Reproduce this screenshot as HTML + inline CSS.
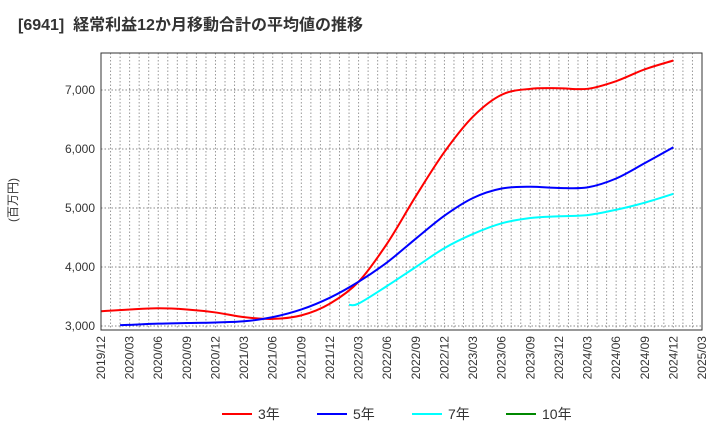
<!DOCTYPE html>
<html><head><meta charset="utf-8"><style>
body{margin:0;background:#fff;font-family:"Liberation Sans","Noto Sans CJK JP",sans-serif}
</style></head><body>
<svg id="c" width="720" height="440" xmlns="http://www.w3.org/2000/svg" font-family="Liberation Sans, Noto Sans CJK JP, sans-serif">
<text x="18" y="30" font-size="16" font-weight="bold" fill="#333" xml:space="preserve">[6941]  経常利益12か月移動合計の平均値の推移</text>
<text transform="translate(17,200) rotate(-90)" font-size="12" fill="#333" text-anchor="middle">(百万円)</text>
<g id="grid"></g><g id="series"></g><g id="axes"></g><g id="legend"></g>
</svg>
<script>
const xLabels=["2019/12","2020/03","2020/06","2020/09","2020/12","2021/03","2021/06","2021/09","2021/12","2022/03","2022/06","2022/09","2022/12","2023/03","2023/06","2023/09","2023/12","2024/03","2024/06","2024/09","2024/12","2025/03"];
const yTicks=[3000,4000,5000,6000,7000];
const s3=[3250,3280,3300,3280,3230,3150,3120,3180,3380,3750,4400,5200,5950,6550,6920,7020,7030,7020,7150,7350,7500];
const s5=[null,3020,3040,3050,3060,3080,3150,3280,3480,3750,4080,4480,4870,5170,5330,5360,5340,5350,5500,5760,6030];
const s7=[null,null,null,null,null,null,null,null,null,3380,3680,4000,4320,4560,4740,4830,4860,4880,4970,5090,5240];
const s10=[];
// first monthly point before the first quarter value: [quarter index, value]
const s5Lead=[0.667,3015];
const s7Lead=[8.667,3360];
const L=101,R=702,T=53,B=330;
const xs=i=>L+i*(R-L)/21;
const ys=v=>326-(v-3000)*0.059;
const NS="http://www.w3.org/2000/svg";
function mk(t,a,p){const e=document.createElementNS(NS,t);for(const k in a)e.setAttribute(k,a[k]);p.appendChild(e);return e;}
const g=document.getElementById('grid'),ax=document.getElementById('axes'),sg=document.getElementById('series'),lg=document.getElementById('legend');
for(let m=1;m<63;m++){const x=L+m*(R-L)/63;const l=mk('line',{x1:x,x2:x,y1:T,y2:B,stroke:'#999','stroke-dasharray':'1.5,2','stroke-width':1},g);

}
yTicks.forEach(v=>{const l=mk('line',{x1:L,x2:R,y1:ys(v),y2:ys(v),stroke:'#888','stroke-dasharray':'1.5,2','stroke-width':1},g);


const t=mk('text',{x:L-6,y:ys(v)+4,'font-size':12,'text-anchor':'end',fill:'#333'},ax);t.textContent=v.toLocaleString('en-US');

});
const fr=mk('rect',{x:L,y:T,width:R-L,height:B-T,fill:'none',stroke:'#333','stroke-width':1},ax);


xLabels.forEach((s,i)=>{const t=mk('text',{transform:`translate(${xs(i)+4},${B+6}) rotate(-90)`,'font-size':12,'text-anchor':'end',fill:'#333'},ax);t.textContent=s;

});
function path(arr,lead){const p=[];if(lead)p.push([xs(lead[0]),ys(lead[1])]);arr.forEach((v,i)=>{if(v!=null)p.push([xs(i),ys(v)]);});if(p.length<2)return'';
let d=`M${p[0][0]},${p[0][1]}`;for(let i=0;i<p.length-1;i++){const a=p[Math.max(0,i-1)],b=p[i],c=p[i+1],e=p[Math.min(p.length-1,i+2)];
d+=`C${b[0]+(c[0]-a[0])/6},${b[1]+(c[1]-a[1])/6} ${c[0]-(e[0]-b[0])/6},${c[1]-(e[1]-b[1])/6} ${c[0]},${c[1]}`;}return d;}
[[s3,null,'#f00','series-3yr'],[s5,s5Lead,'#00f','series-5yr'],[s7,s7Lead,'#0ff','series-7yr'],[s10,null,'#080','series-10yr']].forEach(([a,ld,c,n])=>{const d=path(a,ld);if(!d)return;
const e=mk('path',{d:d,fill:'none',stroke:c,'stroke-width':2},sg);

});
[['3年','#f00',222],['5年','#00f',317],['7年','#0ff',412],['10年','#080',506]].forEach(([t,c,x])=>{const gg=mk('g',{},lg);


mk('line',{x1:x,x2:x+30,y1:414,y2:414,stroke:c,'stroke-width':2},gg);const tx=mk('text',{x:x+36,y:419,'font-size':14,fill:'#333'},gg);tx.textContent=t;});
</script>
</body></html>
